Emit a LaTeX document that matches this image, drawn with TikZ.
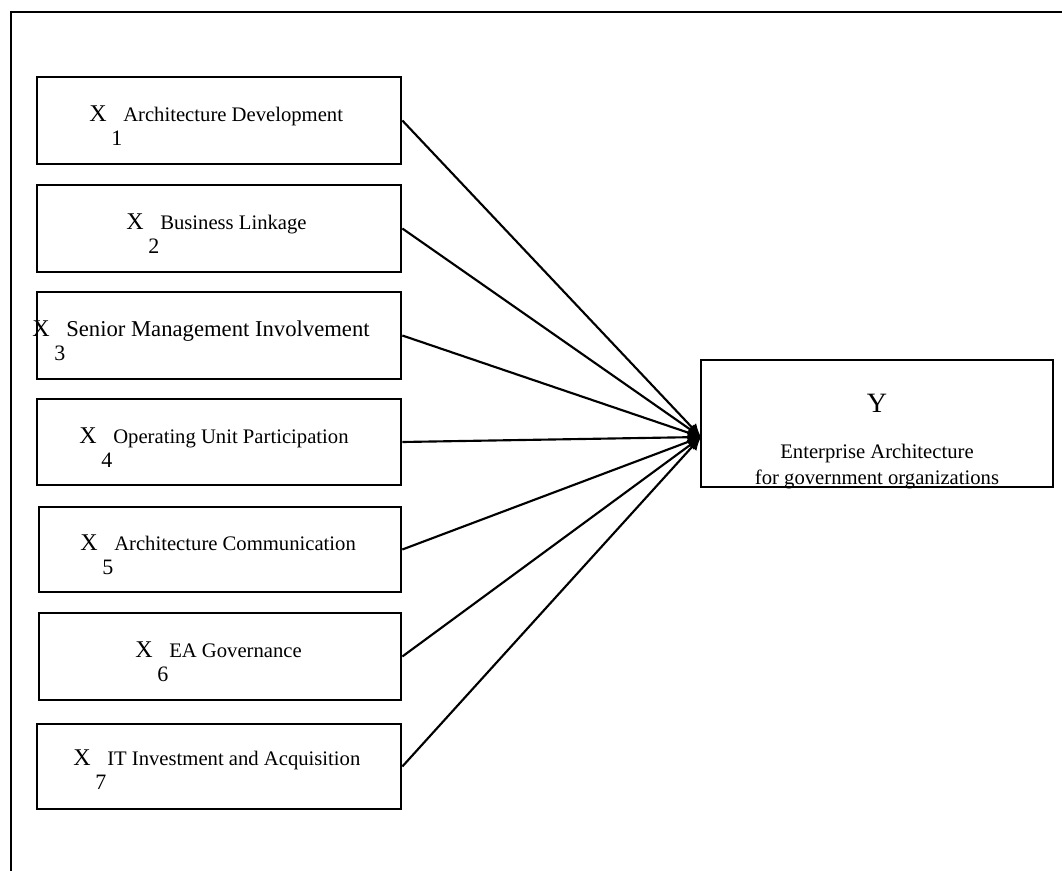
\documentclass[tikz,border=0pt]{standalone}
\usepackage{fontspec}
\setmainfont{Liberation Serif}
\usetikzlibrary{arrows.meta}

% factor label: large X, lowered index, then the factor name
\newcommand\xlabel[2]{{\fontsize{18pt}{20pt}\selectfont X}\hspace{3.5pt}\rlap{\raisebox{-18pt}{\fontsize{16.5pt}{18pt}\selectfont #1}}\hspace{9pt}#2}

\begin{document}
\begin{tikzpicture}[x=0.75pt,y=-0.75pt,
  factor/.style={draw,line width=2pt,minimum width=273pt,minimum height=65.25pt,inner sep=0pt},
  outcome/.style={draw,line width=2pt,minimum width=264pt,minimum height=95.25pt,inner sep=0pt},
  txt/.style={anchor=base west,inner sep=0pt,font=\fontsize{15.5pt}{18pt}\selectfont},
  ytxt/.style={anchor=base,inner sep=0pt,font=\fontsize{15.5pt}{18pt}\selectfont},
  link/.style={line width=1.6pt,-{Latex[length=10pt,width=9pt]}},
  frame/.style={line width=2.2pt}]
\clip (0,0) rectangle (1062,870);
\useasboundingbox (0,0) rectangle (1062,870);

% outer frame, running past the right and bottom edges
\coordinate (fa) at (11,12);
\coordinate (fb) at (1100,12);
\coordinate (fc) at (11,900);
\draw[frame] (fb) -- (fa) -- (fc);

% factor boxes
\node[factor] (b1) at (219,120.5) {};
\node[factor] (b2) at (219,228.5) {};
\node[factor] (b3) at (219,335.5) {};
\node[factor,minimum height=64.5pt] (b4) at (219,442) {};
\node[factor,minimum width=271.5pt,minimum height=63.75pt] (b5) at (220,549.5) {};
\node[factor,minimum width=271.5pt] (b6) at (220,656.5) {};
\node[factor,minimum height=63.75pt] (b7) at (219,766.5) {};

\node[txt] (t1) at (89,122) {\xlabel{1}{Architecture Development}};
\node[txt] (t2) at (126,229) {\xlabel{2}{Business Linkage}};
\node[txt] (t3) at (32,336) {\xlabel{3}{\fontsize{17pt}{19pt}\selectfont Senior Management Involvement}};
\node[txt] (t4) at (79,443) {\xlabel{4}{Operating Unit Participation}};
\node[txt] (t5) at (80,550) {\xlabel{5}{Architecture Communication}};
\node[txt] (t6) at (135,657) {\xlabel{6}{EA Governance}};
\node[txt] (t7) at (73,765) {\xlabel{7}{IT Investment and Acquisition}};

% outcome box
\node[outcome] (y) at (877,423.5) {};
\node[ytxt,font=\fontsize{21pt}{24pt}\selectfont] (ylet) at (877,412) {Y};
\node[ytxt] (ent) at (877,458) {Enterprise Architecture};
\begin{scope}
  \clip (y.south west) rectangle (y.north east);
  \node[ytxt] (gov) at (877,484) {for government organizations};
\end{scope}

% all factors point to one spot on the outcome box
\coordinate (tip) at (701,437);
\foreach \b in {b1,b2,b3,b4,b5,b6,b7}
  \draw[link] (\b.east) -- (tip);
\end{tikzpicture}
\end{document}
